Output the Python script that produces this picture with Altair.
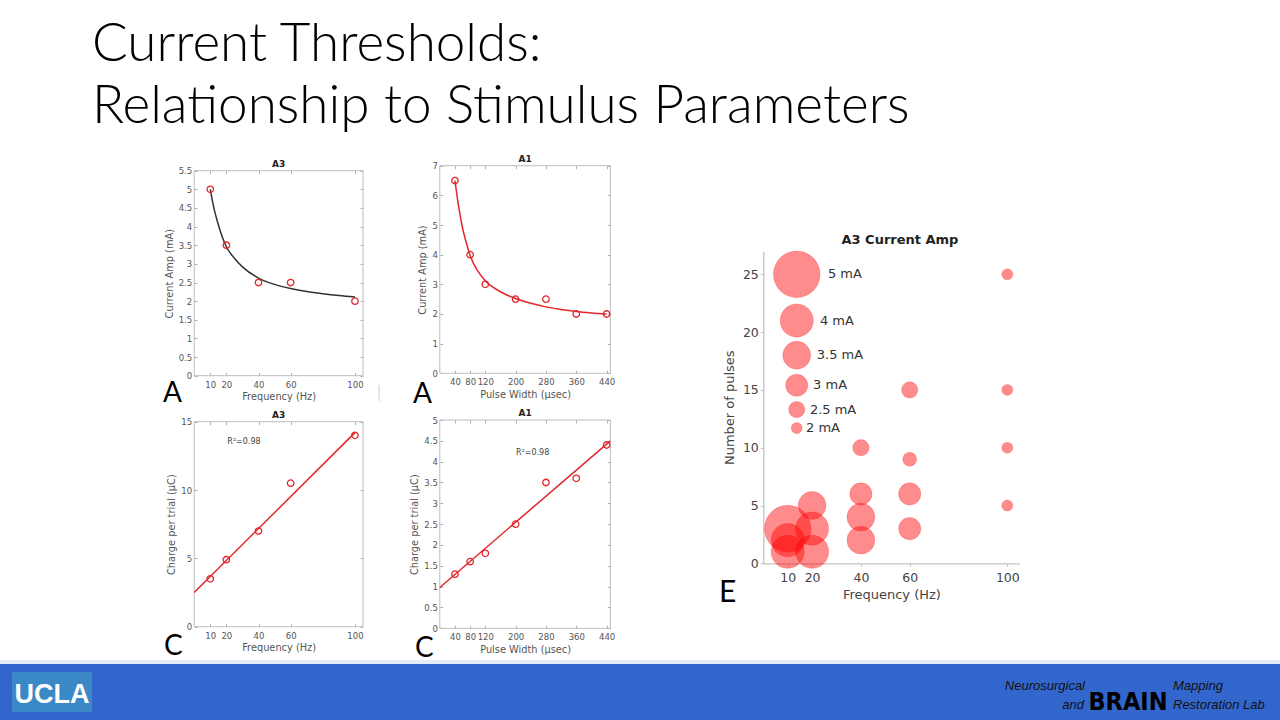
import altair as alt
import pandas as pd

# ---------------- data ----------------
# Panel A (left): threshold vs frequency (A3)
freq = [10, 20, 40, 60, 100]
amp_by_freq = [5.0, 3.5, 2.5, 2.5, 2.0]
fit_freq_x = [10, 12, 15, 20, 25, 30, 40, 50, 60, 70, 80, 90, 100]
fit_freq_y = [5.0, 4.55, 4.05, 3.46, 3.15, 2.92, 2.62, 2.45, 2.34, 2.26, 2.2, 2.15, 2.11]

# Panel A (right): threshold vs pulse width (A1)
pulse_width = [40, 80, 120, 200, 280, 360, 440]
amp_by_pw = [6.5, 4.0, 3.0, 2.5, 2.5, 2.0, 2.0]
fit_pw_x = [40, 50, 60, 70, 80, 100, 120, 160, 200, 240, 280, 320, 360, 400, 440]
fit_pw_y = [6.5, 5.6, 4.9, 4.4, 3.97, 3.45, 3.12, 2.75, 2.52, 2.36, 2.24, 2.15, 2.08, 2.03, 1.99]

# Panel C (left): charge per trial vs frequency (A3)
charge_by_freq = [3.5, 4.9, 7.0, 10.5, 14.0]
lin_freq_x = [0, 100]
lin_freq_y = [2.5, 14.2]
r2_freq_pos = [20.6, 13.5]

# Panel C (right): charge per trial vs pulse width (A1)
charge_by_pw = [1.3, 1.6, 1.8, 2.5, 3.5, 3.6, 4.4]
lin_pw_x = [0, 450]
lin_pw_y = [0.98, 4.5]
r2_pw_pos = [201, 4.21]

# Panel E: bubble chart (A3 current amp)
bub_freq = [10, 10, 10, 20, 20, 20, 40, 40, 40, 40, 60, 60, 60, 60, 100, 100, 100, 100]
bub_pulses = [3, 2, 1, 5, 3, 1, 10, 6, 4, 2, 15, 9, 6, 3, 25, 15, 10, 5]
bub_amp = [5, 4, 4, 3.5, 4, 4, 2.5, 3, 3.5, 3.5, 2.5, 2.25, 3, 3, 2, 2, 2, 2]

key_amp = [5, 4, 3.5, 3, 2.5, 2]
key_labels = ["5 mA", "4 mA", "3.5 mA", "3 mA", "2.5 mA", "2 mA"]
key_x = [13.7] * 6
key_y = [25, 21, 18, 15.4, 13.3, 11.7]
key_label_x = [26.5, 23.2, 21.9, 20.4, 19.1, 17.5]

W, H = 1280, 720
RED = "#e2262b"
PLAIN = "'' + datum.value"

SMALL = dict(grid=False, domain=False, labelOverlap=False, labelFlush=False, labelExpr=PLAIN,
             tickColor="#9a9a9a", tickSize=3, tickWidth=0.8,
             labelFont="DejaVu Sans", labelFontSize=8.5, labelColor="#555555",
             titleFont="DejaVu Sans", titleFontSize=9.8, titleColor="#555555",
             titleFontWeight="normal")


def small_panel(xdom, xrng, ydom, yrng, xticks, yticks, xtitle, ytitle, title,
                px, py, fx, fy, fit_color, note=None):
    xs = alt.Scale(domain=xdom, range=xrng, nice=False, zero=False)
    ys = alt.Scale(domain=ydom, range=yrng, nice=False, zero=False)
    ax_bottom = alt.Axis(orient="bottom", offset=-(H - yrng[0]) - 3, values=xticks,
                         labelPadding=4.5, title=xtitle, titlePadding=3, **SMALL)
    ax_left = alt.Axis(orient="left", offset=-xrng[0] - 3, values=yticks,
                       labelPadding=2.5, title=ytitle, titlePadding=4, **SMALL)
    ax_top = alt.Axis(orient="top", offset=-yrng[1] - 3, values=xticks,
                      labels=False, title=None, **SMALL)
    ax_right = alt.Axis(orient="right", offset=-(W - xrng[1]) - 3, values=yticks,
                        labels=False, title=None, **SMALL)

    box = alt.Chart().mark_rect(fill="transparent", stroke="#bdbdbd", strokeWidth=1).encode(
        x=alt.XDatum(xdom[0], type="quantitative", scale=xs, axis=ax_top),
        x2=alt.X2Datum(xdom[1]),
        y=alt.YDatum(ydom[0], type="quantitative", scale=ys, axis=ax_right),
        y2=alt.Y2Datum(ydom[1]),
    )
    fit = alt.Chart(pd.DataFrame({"x": fx, "y": fy})).mark_line(
        color=fit_color, strokeWidth=1.5, interpolate="monotone").encode(
        x=alt.X("x:Q", scale=xs, axis=None),
        y=alt.Y("y:Q", scale=ys, axis=None),
    )
    pts = alt.Chart(pd.DataFrame({"x": px, "y": py})).mark_point(
        shape="circle", filled=False, color=RED, size=42, strokeWidth=1.3, opacity=1).encode(
        x=alt.X("x:Q", scale=xs, axis=ax_bottom),
        y=alt.Y("y:Q", scale=ys, axis=ax_left),
    )
    ttl = alt.Chart().mark_text(text=title, font="DejaVu Sans", fontSize=9, fontWeight="bold",
                                color="#222222", baseline="alphabetic", dy=-4).encode(
        x=alt.XDatum((xdom[0] + xdom[1]) / 2, type="quantitative", scale=xs, axis=None),
        y=alt.YDatum(ydom[1], type="quantitative", scale=ys, axis=None),
    )
    layers = [box, fit, pts, ttl]
    if note is not None:
        layers.append(alt.Chart().mark_text(text="R²=0.98", font="DejaVu Sans", fontSize=8,
                                            color="#444444", align="left", baseline="middle").encode(
            x=alt.XDatum(note[0], type="quantitative", scale=xs, axis=None),
            y=alt.YDatum(note[1], type="quantitative", scale=ys, axis=None),
        ))
    return alt.layer(*layers).resolve_axis(x="independent", y="independent")


XF = [194.2, 363.0]
XP = [439.8, 610.4]

pA3 = small_panel([0, 105], XF, [0, 5.5], [375.7, 170.7], freq,
                  [0, 0.5, 1, 1.5, 2, 2.5, 3, 3.5, 4, 4.5, 5, 5.5],
                  "Frequency (Hz)", "Current Amp (mA)", "A3",
                  freq, amp_by_freq, fit_freq_x, fit_freq_y, "#333333")
pA1 = small_panel([0, 450], XP, [0, 7], [373.3, 165.7], pulse_width,
                  [0, 1, 2, 3, 4, 5, 6, 7],
                  "Pulse Width (µsec)", "Current Amp (mA)", "A1",
                  pulse_width, amp_by_pw, fit_pw_x, fit_pw_y, RED)
pC3 = small_panel([0, 105], XF, [0, 15], [626.7, 421.7], freq, [0, 5, 10, 15],
                  "Frequency (Hz)", "Charge per trial (µC)", "A3",
                  freq, charge_by_freq, lin_freq_x, lin_freq_y, RED, note=r2_freq_pos)
pC1 = small_panel([0, 450], XP, [0, 5], [628.3, 420.0], pulse_width,
                  [0, 0.5, 1, 1.5, 2, 2.5, 3, 3.5, 4, 4.5, 5],
                  "Pulse Width (µsec)", "Charge per trial (µC)", "A1",
                  pulse_width, charge_by_pw, lin_pw_x, lin_pw_y, RED, note=r2_pw_pos)

# ---------------- panel E ----------------
xsE = alt.Scale(domain=[0, 105], range=[763.3, 1019.5], nice=False, zero=False)
ysE = alt.Scale(domain=[0, 27], range=[563.3, 251.2], nice=False, zero=False)
size_scale = alt.Scale(domain=[2, 2.5, 3, 3.5, 4, 5], range=[121, 266, 491, 774, 1099, 2173])
E_AX = dict(grid=False, labelOverlap=False, labelFlush=False, labelExpr=PLAIN,
            domainColor="#c4c4c4", domainWidth=1.3, tickColor="#c4c4c4", tickSize=3,
            labelFont="DejaVu Sans", labelFontSize=12.5, labelColor="#444444",
            titleFont="DejaVu Sans", titleFontSize=13, titleColor="#444444",
            titleFontWeight="normal")
axE_b = alt.Axis(orient="bottom", offset=-(H - 563.3), values=[10, 20, 40, 60, 100],
                 labelPadding=5, title="Frequency (Hz)", titlePadding=5, **E_AX)
axE_l = alt.Axis(orient="left", offset=-763.3, values=[0, 5, 10, 15, 20, 25],
                 labelPadding=2, title="Number of pulses", titlePadding=6, **E_AX)

bubble_style = dict(fill="#ff0000", fillOpacity=0.45, stroke="#ff0000",
                    strokeOpacity=0.25, strokeWidth=0.8)
bubbles = alt.Chart(pd.DataFrame({"f": bub_freq, "n": bub_pulses, "amp": bub_amp})).mark_circle(
    **bubble_style).encode(
    x=alt.X("f:Q", scale=xsE, axis=axE_b),
    y=alt.Y("n:Q", scale=ysE, axis=axE_l),
    size=alt.Size("amp:Q", scale=size_scale, legend=None),
)
key_df = pd.DataFrame({"x": key_x, "y": key_y, "amp": key_amp, "tx": key_label_x, "label": key_labels})
key_dots = alt.Chart(key_df).mark_circle(**bubble_style).encode(
    x=alt.X("x:Q", scale=xsE, axis=None),
    y=alt.Y("y:Q", scale=ysE, axis=None),
    size=alt.Size("amp:Q", scale=size_scale, legend=None),
)
key_text = alt.Chart(key_df).mark_text(align="left", baseline="middle", font="DejaVu Sans",
                                       fontSize=13, color="#333333").encode(
    x=alt.X("tx:Q", scale=xsE, axis=None),
    y=alt.Y("y:Q", scale=ysE, axis=None),
    text="label:N",
)
e_title = alt.Chart().mark_text(text="A3 Current Amp", font="DejaVu Sans", fontSize=13,
                                fontWeight="bold", color="#222222", baseline="middle").encode(
    x=alt.XDatum(56, type="quantitative", scale=xsE, axis=None),
    y=alt.YDatum(28, type="quantitative", scale=ysE, axis=None),
)
pE = alt.layer(bubbles, key_dots, key_text, e_title).resolve_axis(x="independent", y="independent")

# ---------------- slide decoration ----------------
def label(txt, x, y, size=28, font="Lato", weight="normal", color="#000000", align="left",
          style="normal"):
    return alt.Chart().mark_text(text=txt, font=font, fontSize=size, fontWeight=weight,
                                 color=color, align=align, baseline="alphabetic",
                                 fontStyle=style).encode(x=alt.value(x), y=alt.value(y))

title1 = label("Current Thresholds:", 92, 61, size=53, weight=300)
title2 = label("Relationship to Stimulus Parameters", 92, 123, size=53, weight=300)
letters = [label("A", 163, 402), label("A", 413, 403), label("C", 164, 655),
           label("C", 415, 657), label("E", 719, 602, size=30)]
sep = alt.Chart().mark_rule(color="#cfcfcf", strokeWidth=1).encode(
    x=alt.value(379), y=alt.value(385), y2=alt.value(401))

band_top = alt.Chart().mark_rect(color="#e4ecf7").encode(
    x=alt.value(0), x2=alt.value(W), y=alt.value(660), y2=alt.value(664))
band = alt.Chart().mark_rect(color="#3366cc").encode(
    x=alt.value(0), x2=alt.value(W), y=alt.value(664), y2=alt.value(720))
ucla_box = alt.Chart().mark_rect(color="#3b88c6").encode(
    x=alt.value(12), x2=alt.value(92), y=alt.value(672), y2=alt.value(712))
ucla = label("UCLA", 52, 703, size=27, font="Liberation Sans", weight="bold",
             color="#ffffff", align="center")
neuro = label("Neurosurgical", 1085, 690, size=13, font="Liberation Sans", color="#111111",
              align="right", style="italic")
and_t = label("and", 1084, 709, size=13, font="Liberation Sans", color="#111111",
              align="right", style="italic")
brain = label("BRAIN", 1128, 710, size=25,
              font="'DejaVu Sans Condensed', 'Liberation Sans Narrow', Roboto, sans-serif",
              weight="bold", color="#000000", align="center")
mapping = label("Mapping", 1173, 690, size=13, font="Liberation Sans", color="#111111",
                style="italic")
resto = label("Restoration Lab", 1173, 709, size=13, font="Liberation Sans", color="#111111",
              style="italic")

chart = alt.layer(
    band_top, band, ucla_box, ucla, neuro, and_t, brain, mapping, resto,
    title1, title2, *letters, sep,
    pA3, pA1, pC3, pC1, pE,
).resolve_scale(
    x="independent", y="independent", size="independent"
).resolve_axis(
    x="independent", y="independent"
).properties(
    width=W, height=H, padding=0, autosize=alt.AutoSizeParams(type="none"),
    background="#ffffff",
).configure_view(stroke=None)

chart.save("out.html", embed_options={"renderer": "svg", "actions": False})
